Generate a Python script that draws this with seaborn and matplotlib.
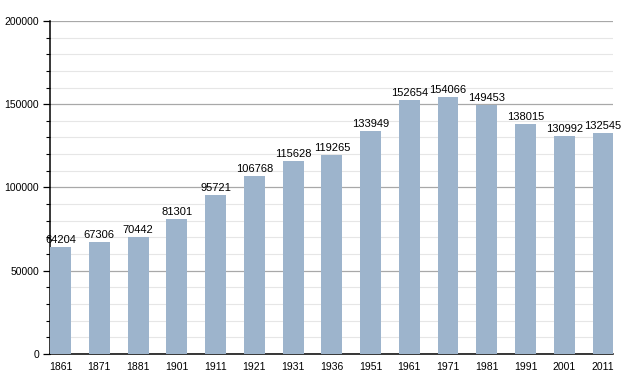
import seaborn as sns
import matplotlib.pyplot as plt
import pandas as pd
from matplotlib.ticker import MultipleLocator

# data
years = ['1861', '1871', '1881', '1901', '1911', '1921', '1931', '1936',
         '1951', '1961', '1971', '1981', '1991', '2001', '2011']
population = [64204, 67306, 70442, 81301, 95721, 106768, 115628, 119265,
              133949, 152654, 154066, 149453, 138015, 130992, 132545]

df = pd.DataFrame({'Year': years, 'Population': population})

sns.set_style("white")
plt.rcParams['font.family'] = ['Liberation Sans', 'DejaVu Sans']
plt.rcParams['text.color'] = 'black'
plt.rcParams['xtick.color'] = 'black'
plt.rcParams['ytick.color'] = 'black'

fig = plt.figure(figsize=(6.43, 3.73), dpi=100)
ax = fig.add_axes([0.078, 0.051, 0.876, 0.893])

bar_w = 0.54
sns.barplot(data=df, x='Year', y='Population', color='#9db4cc',
            width=bar_w, saturation=1, linewidth=0, ax=ax, zorder=3)

for i, v in enumerate(population):
    ax.text(i, v + 1200, str(v), ha='center', va='bottom', fontsize=8, zorder=4)

ax.set_ylim(0, 200000)
ax.set_xlim(-bar_w / 2, len(years) - 1 + bar_w / 2)
ax.yaxis.set_major_locator(MultipleLocator(50000))
ax.yaxis.set_minor_locator(MultipleLocator(10000))
ax.grid(axis='y', which='major', color='#a8a8a8', linewidth=0.9, zorder=0)
ax.grid(axis='y', which='minor', color='#e6e6e6', linewidth=0.8, zorder=0)
ax.set_axisbelow(True)

ax.tick_params(axis='y', which='major', left=True, length=5, width=0.9,
               labelsize=7.5, pad=3)
ax.tick_params(axis='y', which='minor', left=True, length=3, width=0.8)
ax.tick_params(axis='x', bottom=False, labelsize=7.5, pad=2)

for s in ['top', 'right']:
    ax.spines[s].set_visible(False)
for s in ['left', 'bottom']:
    ax.spines[s].set_color('black')
    ax.spines[s].set_linewidth(1.1)

ax.set_xlabel('')
ax.set_ylabel('')

plt.savefig('out.png', dpi=100)
plt.close()
